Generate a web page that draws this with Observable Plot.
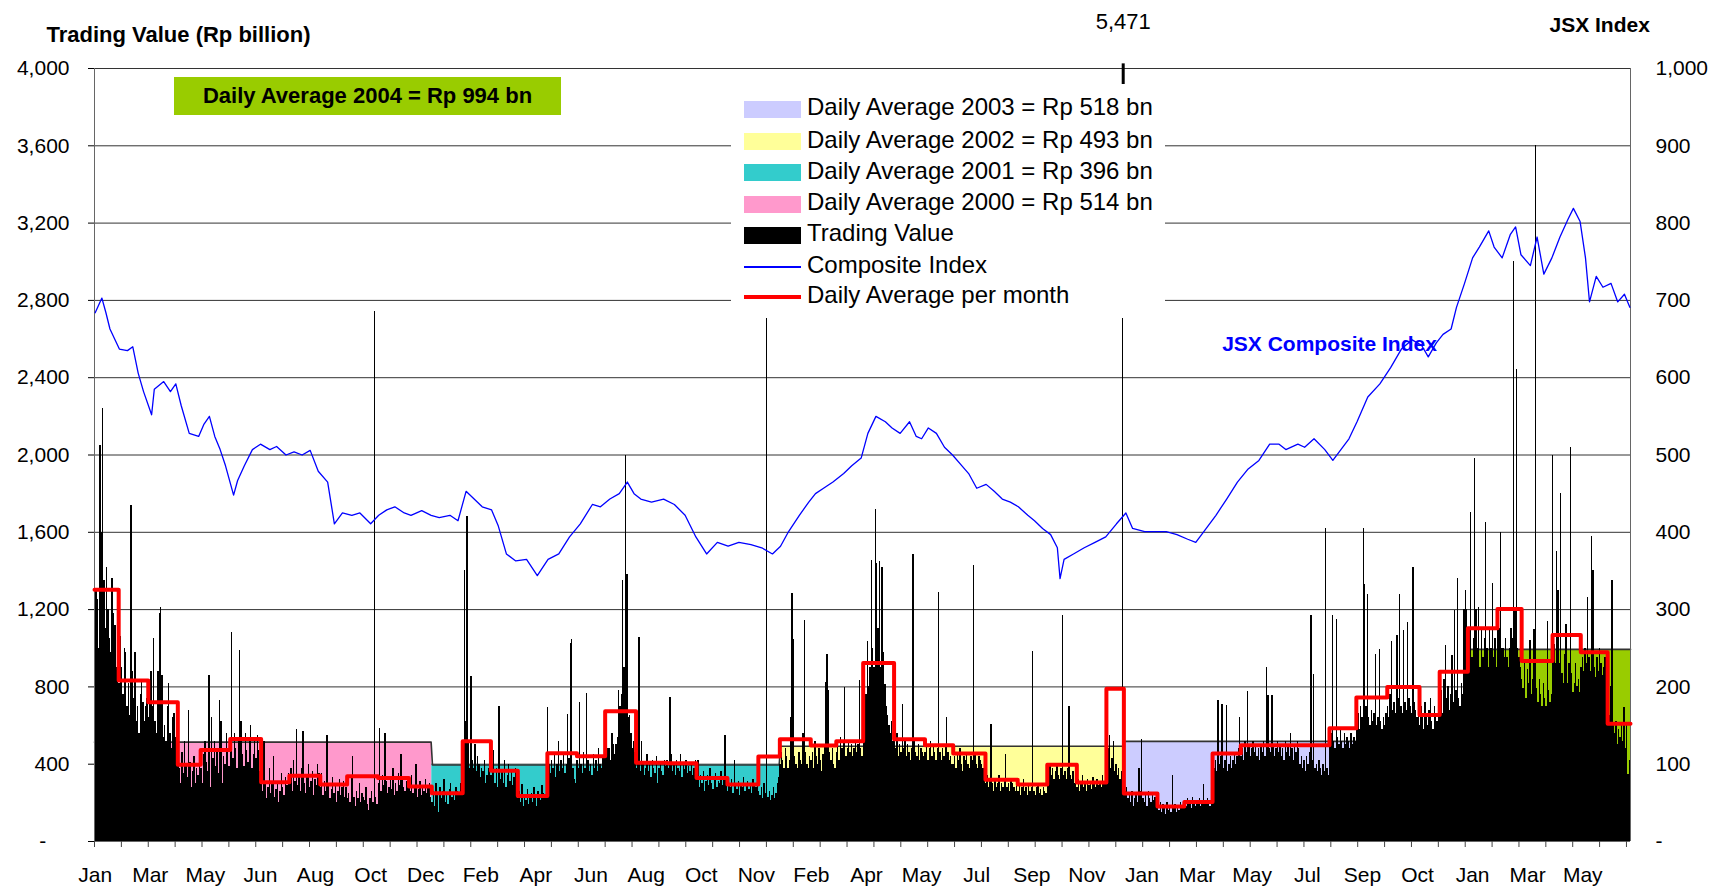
<!DOCTYPE html>
<html><head><meta charset="utf-8">
<script src="https://cdn.jsdelivr.net/npm/d3@7"></script>
<script src="https://cdn.jsdelivr.net/npm/@observablehq/plot@0.6"></script>
<style>
html,body{margin:0;padding:0;background:#fff;overflow:hidden}
#wrap{position:relative;width:1715px;height:890px;font-family:"Liberation Sans",Arial,sans-serif;color:#000}
#wrap svg{position:absolute;left:0;top:0}
.ov{position:absolute}
#legend{left:731px;top:84px;width:434px;height:234px;background:#fff}
#legend .sw{position:absolute;left:13px;width:57px}
#legend .tx{position:absolute;left:76px;font-size:24px;line-height:28px;white-space:nowrap}
#avg04{left:174px;top:77px;width:387px;height:38px;background:#99CC00;font-weight:bold;font-size:22px;line-height:38px;text-align:center}
</style>
</head><body><div id="wrap"></div>
<script>
// ---- Daily trading value (Rp billion), one inner array per month ----
const tv2000 = [
 [1150,1300,1250,1000,2050,1600,2240,1350,1100,1420,1200,1050,980,1360,1180,1120,900,1000],
 [820,1060,900,760,1000,980,700,820,650,1740,880,740,980,620,700,560,760,840,720,620,700,740],
 [640,760,880,700,1050,620,560,880,1180,1210,860,540,600,520,700,820,560,480,640,660,540,400],
 [420,380,300,460,350,520,390,330,680,410,280,360,440,300,380,340,420],
 [380,300,450,520,410,360,860,280,640,430,520,390,470,350,730,620,300,440,400,560,480,390],
 [520,1080,430,560,480,380,540,990,620,450,390,560,470,410,540,600,380,450,520,430,550,470,360],
 [340,260,520,300,220,280,380,250,300,440,230,270,310,200,260,350,280,240,330,290,350],
 [300,380,260,420,310,580,290,340,260,380,570,300,250,330,400,280,310,360,240,320,290,400,350],
 [280,350,240,310,260,550,300,220,270,330,250,290,200,260,320,240,280,310,230,280],
 [220,250,200,330,440,230,180,260,220,300,200,250,230,210,280,190,160,220,260,200,2740,230,190],
 [300,586,260,340,290,560,310,250,280,330,270,380,240,300,260,350,290,452,320,280,260,310,300],
 [300,260,340,250,280,400,230,270,310,240,290,260,320,250,280,300,230]
];
const tv2001 = [
 [200,260,180,300,240,150,280,220,260,320,200,240,190,270,300,230,250,210,280,260,240,300,330],
 [420,1400,620,1680,520,380,855,420,380,500,360,440,400,330,380,360,420,300,340,380,360],
 [340,400,469,300,380,280,697,320,360,300,420,280,340,400,310,360,290,330,380,300],
 [220,260,200,297,180,240,210,270,190,230,250,200,280,220,180,260,240,210,290,250,230,260],
 [693,400,350,420,380,460,330,400,520,360,420,380,450,350,400,658,430,1025,1047,380,320,300],
 [420,380,719,400,350,460,380,765,420,360,400,340,450,380,420,360,480,400,380,440,430],
 [450,520,480,480,420,560,500,450,500,540,779,700,760,1348,900,2000,1383,640,650,560,480,520,460],
 [380,420,1055,360,520,400,340,380,450,360,400,330,420,380,350,440,300,380,410,360,340,420,390],
 [420,380,745,452,360,400,340,420,380,360,450,330,400,370,420,350,390,360,410,340,380,420],
 [320,417,280,340,300,360,260,310,340,290,380,300,270,330,350,280,310,300,360,290,320,546,300],
 [260,300,280,320,250,417,290,270,310,240,300,280,330,260,290,310,270,300,250,320,290,280,300],
 [260,240,280,220,300,250,3000,230,260,210,240,280,220,250,300,330]
];
const tv2002 = [
 [400,460,420,380,480,440,380,420,641,1283,1047,440,400,380,460,420,400,560,1145,460,400,380,440],
 [420,460,380,520,440,400,480,420,360,450,500,822,969,779,460,420,480,400,380],
 [460,500,420,540,480,520,797,440,480,520,460,500,440,480,520,460,500,831,480,440],
 [700,700,760,1033,800,900,1452,1000,900,1720,1440,1100,1450,900,1420,980,814,700,650,600,560,620,520],
 [520,480,560,440,500,460,710,480,520,440,500,460,420,480,1486,520,460,440,500,420,480,460,440],
 [460,500,420,480,520,440,500,460,420,480,1291,460,420,480,440,500,641,460,420,440,400],
 [400,440,380,460,420,480,400,360,440,420,460,400,380,440,420,1429,460,400,380,440,420,400,380,420],
 [300,340,280,320,607,300,260,320,280,300,340,260,300,280,320,452,280,300,260,320,300,280,260,300],
 [260,300,240,280,320,260,280,240,300,260,280,981,260,240,280,300,250,270,240,280,260,250],
 [360,320,400,340,380,320,360,400,340,320,380,1172,340,360,320,380,697,340,320,360,300,340],
 [280,320,260,300,340,280,300,260,320,290,310,270,330,300,280,320,290,310,280,340,300,320],
 [420,480,550,380,430,520,360,400,340,380,320,360,5471]
];
const tv2003 = [
 [300,260,280,220,240,200,260,180,220,240,200,380,260,529,220,200,240,180,260,220,200,240,210,230,200],
 [180,160,200,150,190,170,140,200,160,180,150,340,170,190,150,180,160,200,170,190],
 [200,180,220,190,210,170,230,200,180,210,190,220,180,200,297,210,190,220,200,180,230],
 [320,380,420,360,731,400,440,710,380,420,705,360,400,440,380,420,460,400,440,480,641],
 [440,480,420,520,460,776,500,440,480,520,460,500,440,480,420,500,460,520,440,900,753,480],
 [460,753,500,440,480,520,460,500,440,480,420,520,460,500,440,560,480,420,500,460,520,480],
 [400,440,380,420,360,440,400,460,1171,420,866,380,400,360,420,380,340,400,360,1620,380,340],
 [500,560,1172,520,480,1150,540,500,580,520,480,560,500,540,520,480,560,500,540,520],
 [620,660,580,700,640,1620,1331,700,1280,640,600,680,620,660,969,600,640,995,620,580,640,600,660],
 [700,640,760,1033,680,720,660,1064,740,1279,700,660,1090,720,680,1133,740,700,660,1417,720,680,640,700],
 [600,700,640,580,720,660,600,680,740,620,580,700,640,620,680],
 [720,780,660,840,1012,740,800,680,760,960,720,1193,780,1360,740,700,820,760,1200,1300,1200]
];
const tv2004 = [
 [1000,1100,1700,950,1050,1980,1200,1000,1210,900,1100,950,1050,1650,1000,900,1100,1000,1334,950,1050,900],
 [1200,1100,1600,1000,1000,950,1050,950,900,1000,1100,1050,3000,1200,2440,1000,950,900],
 [840,790,940,740,890,820,1038,760,840,1098,3600,790,720,840,760,700,820,740,700,1140,780,720,760],
 [2000,1020,920,1500,1300,920,1800,870,820,970,1124,820,920,2040,870,770,820,920,800,840,770],
 [900,950,880,1000,920,1262,950,880,1580,1400,900,850,950,880,1000,920,860,900,950,880],
 [700,650,800,1348,600,560,620,500,580,540,600,520,693,480,607,348,420]
];
// ---- Daily average per month (red step line) ----
const avg2000 = [1303,833,721,397,474,531,307,340,295,338,329,284];
const avg2001 = [250,519,366,236,457,441,674,407,405,328,295,440];
const avg2002 = [529,497,519,924,529,498,455,319,295,397,305,791];
const avg2003 = [248,181,205,455,498,498,498,586,745,800,655,878];
const avg2004 = [1103,1203,934,1069,979,609];
// ---- Yearly daily averages (shaded bands) ----
const years = [2000, 2001, 2002, 2003, 2004];
const yearAvg = [514, 396, 493, 518, 994];
const yearColor = ["#FF99CC", "#33CCCC", "#FFFF99", "#CCCCFF", "#99CC00"];
// ---- JSX Composite Index: [trading day, index] ----
const jsx = [[0,684],[5,703],[8,684],[11,663],[18,637],[24,635],[28,640],[32,606],[36,582],[42,552],[44,585],[51,595],[56,582],[60,592],[64,564],[70,528],[77,524],[81,540],[85,550],[89,524],[93,507],[97,486],[103,448],[106,467],[111,486],[117,507],[123,514],[130,507],[135,511],[142,500],[148,504],[154,500],[160,506],[166,479],[173,465],[178,411],[184,425],[191,422],[197,425],[205,411],[211,422],[217,429],[223,433],[230,425],[235,422],[243,428],[250,422],[256,419],[264,422],[270,415],[276,453],[282,443],[288,433],[295,429],[300,408],[306,372],[313,363],[321,365],[329,344],[337,365],[345,372],[353,394],[361,411],[370,436],[376,433],[383,443],[390,450],[396,465],[401,450],[406,443],[414,439],[423,443],[431,436],[439,422],[447,394],[455,372],[463,387],[471,382],[479,387],[488,384],[496,380],[504,372],[510,382],[516,401],[524,422],[531,439],[536,450],[542,457],[549,465],[557,476],[563,486],[570,496],[575,528],[581,550],[588,543],[593,535],[599,528],[606,543],[611,524],[615,521],[620,535],[626,528],[632,510],[638,500],[645,486],[650,476],[656,457],[663,462],[669,453],[675,443],[681,439],[687,433],[694,422],[699,415],[705,405],[711,397],[716,380],[718,340],[721,365],[728,372],[736,380],[744,387],[752,394],[760,411],[767,425],[772,405],[781,401],[789,401],[797,401],[805,397],[813,391],[819,387],[825,401],[834,422],[842,443],[850,465],[858,482],[866,493],[874,514],[881,514],[886,507],[895,514],[900,510],[907,521],[915,507],[921,493],[927,507],[933,521],[939,543],[947,575],[956,592],[964,613],[972,637],[980,649],[987,642],[992,627],[998,645],[1003,656],[1009,663],[1013,691],[1019,722],[1025,755],[1030,769],[1037,790],[1041,769],[1047,755],[1053,785],[1057,795],[1061,759],[1068,745],[1073,782],[1078,734],[1084,755],[1090,782],[1096,805],[1100,819],[1105,802],[1109,755],[1112,698],[1117,731],[1122,717],[1128,722],[1133,698],[1138,708],[1142,691]];
// ---- Axis tick labels ----
const monthLabels = ["Jan","Mar","May","Jun","Aug","Oct","Dec","Feb","Apr","Jun","Aug","Oct","Nov","Feb","Apr","May","Jul","Sep","Nov","Jan","Mar","May","Jul","Sep","Oct","Jan","Mar","May"];
const leftTicks = [0,400,800,1200,1600,2000,2400,2800,3200,3600,4000];
const rightTicks = [0,100,200,300,400,500,600,700,800,900,1000];

// ---- build tables ----
const tvByYear = [tv2000, tv2001, tv2002, tv2003, tv2004];
const avgByYear = [avg2000, avg2001, avg2002, avg2003, avg2004];
const bars = [], months = [], spans = [];
let day = 0;
tvByYear.forEach((yr, k) => {
  const start = day;
  yr.forEach((m, j) => {
    months.push({x: day, y: avgByYear[k][j]});
    m.forEach(v => { bars.push({i: day, v}); day++; });
  });
  spans.push({year: years[k], start, end: day, avg: yearAvg[k], color: yearColor[k]});
});
const N = day;
months.push({x: N, y: months[months.length - 1].y});
const yMax = 4000, idxMax = 1000, ratio = yMax / idxMax;
const tickEvery = 20, labelEvery = 41;
const fmt = d3.format(",");
const borderPts = [];
spans.forEach((s, k) => {
  borderPts.push({x: k === 0 ? s.start : s.start + 0.5, y: s.avg});
  borderPts.push({x: k === spans.length - 1 ? s.end : s.end - 0.5, y: s.avg});
});
const labelTicks = monthLabels.map((_, k) => k * labelEvery + 0.5);
const labelAt = new Map(labelTicks.map((t, k) => [t, monthLabels[k]]));
const over = bars.filter(d => d.v > yMax);

const chart = Plot.plot({
  width: 1715, height: 890,
  marginLeft: 94, marginRight: 85, marginTop: 68, marginBottom: 49,
  style: {fontFamily: "'Liberation Sans', Arial, sans-serif", fontSize: "21px", color: "#000", background: "transparent"},
  x: {type: "linear", domain: [0, N]},
  y: {domain: [0, yMax]},
  marks: [
    Plot.ruleY(leftTicks, {stroke: "#333", strokeWidth: 1}),
    ...spans.map(s => Plot.areaY([{x: s.start, y: s.avg}, {x: s.end, y: s.avg}], {x: "x", y: "y", fill: s.color})),
    Plot.line(borderPts, {x: "x", y: "y", stroke: "#333", strokeWidth: 1.6}),
    Plot.rectY(bars, {x1: "i", x2: d => d.i + 1, y1: 0, y2: d => Math.min(d.v, yMax), fill: "#000", shapeRendering: "crispEdges"}),
    Plot.ruleX(over, {x: d => d.i + 0.5, y1: yMax * 0.97, y2: yMax * 1.006, stroke: "#000", strokeWidth: 3}),
    Plot.text(over, {x: d => d.i + 0.5, y: yMax, text: d => fmt(d.v), dy: -47, fontSize: 22, lineAnchor: "middle"}),
    Plot.ruleX([0, N], {stroke: "#666", strokeWidth: 1}),
    Plot.ruleY([0], {stroke: "#666", strokeWidth: 1}),
    Plot.line(months, {x: "x", y: "y", curve: "step-after", stroke: "#FF0000", strokeWidth: 4}),
    Plot.line(jsx, {x: d => d[0] + 0.5, y: d => d[1] * ratio, stroke: "#0000FF", strokeWidth: 1.3}),
    Plot.axisY({anchor: "left", ticks: leftTicks, tickSize: 6, tickPadding: 19, label: null, fontSize: 21,
      tickFormat: d => d === 0 ? "-\u00a0\u00a0\u00a0\u00a0" : fmt(d)}),
    Plot.axisY({anchor: "right", ticks: rightTicks.map(t => t * ratio), tickSize: 0, tickPadding: 25, label: null, fontSize: 21,
      tickFormat: d => d === 0 ? "-" : fmt(d / ratio)}),
    Plot.axisX({ticks: d3.range(0, N, tickEvery), tickSize: 6, tickFormat: () => "", label: null, stroke: "#444"}),
    Plot.axisX({ticks: labelTicks, tickSize: 0, tickPadding: 26, label: null, fontSize: 21, tickFormat: d => labelAt.get(d)}),
    Plot.text(["Trading Value (Rp billion)"], {frameAnchor: "top-left", textAnchor: "start", lineAnchor: "middle", dx: -48, dy: -34, fontWeight: "bold", fontSize: 22}),
    Plot.text(["JSX Index"], {frameAnchor: "top-right", textAnchor: "start", lineAnchor: "middle", dx: -81, dy: -43, fontWeight: "bold", fontSize: 21}),
    Plot.text(["JSX Composite Index"], {frameAnchor: "top-left", textAnchor: "middle", lineAnchor: "middle", dx: 1235, dy: 276, fontWeight: "bold", fontSize: 21, fill: "#0000FF"})
  ]
});
const wrap = document.getElementById("wrap");
wrap.appendChild(chart);

// green 2004 box
const g = document.createElement("div");
g.className = "ov"; g.id = "avg04";
g.textContent = `Daily Average ${years[4]} = Rp ${yearAvg[4]} bn`;
wrap.appendChild(g);

// legend
const lg = document.createElement("div");
lg.className = "ov"; lg.id = "legend";
const rows = [
  ...[3, 2, 1, 0].map(k => ({label: `Daily Average ${years[k]} = Rp ${yearAvg[k]} bn`, color: yearColor[k], h: 17})),
  {label: "Trading Value", color: "#000", h: 17},
  {label: "Composite Index", color: "#0000FF", h: 2},
  {label: "Daily Average per month", color: "#FF0000", h: 4}
];
const rowY = [23, 55.5, 86.5, 118, 149, 180.5, 211];
rows.forEach((r, k) => {
  const sw = document.createElement("div");
  sw.className = "sw";
  sw.style.top = (rowY[k] + 2 - r.h / 2) + "px";
  sw.style.height = r.h + "px";
  sw.style.background = r.color;
  lg.appendChild(sw);
  const tx = document.createElement("div");
  tx.className = "tx";
  tx.style.top = (rowY[k] - 14) + "px";
  tx.textContent = r.label;
  lg.appendChild(tx);
});
wrap.appendChild(lg);
</script>
</body></html>
